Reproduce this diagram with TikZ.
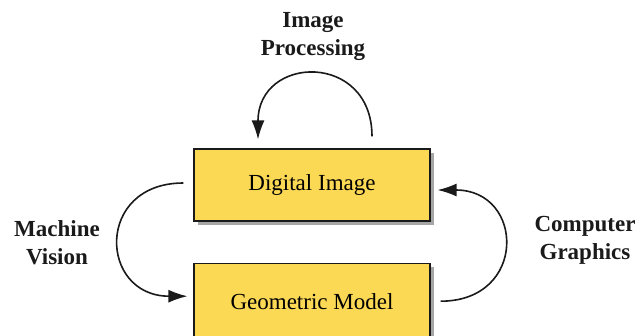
\documentclass[tikz,border=0pt]{standalone}
\usepackage{fontspec}
\setmainfont{Liberation Serif}
\usetikzlibrary{arrows.meta,positioning,shadows}
\definecolor{ink}{HTML}{1A1A1A}
\definecolor{boxfill}{HTML}{FCD955}
\tikzset{
  box/.style={draw=ink,line width=1.2pt,fill=boxfill,minimum width=236pt,minimum height=72pt,inner sep=0pt,font=\fontsize{23}{28}\selectfont,drop shadow={shadow xshift=4pt,shadow yshift=-4pt,opacity=.35,fill=black}},
  lbl/.style={align=center,font=\fontsize{23}{28}\selectfont\bfseries,text=ink},
  ar/.style={-{Latex[length=19pt,width=13pt]},draw=ink,line width=1.6pt},
}
\begin{document}
\begin{tikzpicture}[x=1pt,y=-1pt]
  \useasboundingbox (0,0) rectangle (642,335);
  \node[box] (img) at (312,185) {Digital Image};
  \node[box,below=41pt of img,minimum height=76pt] (geo) {Geometric Model};

  \node[lbl] (proc) at (313,37) {Image\\Processing};
  \node[lbl] (vis) at (57,243) {Machine\\Vision};
  \node[lbl] (gfx) at (585,240) {Computer\\Graphics};

  \draw[ar] ([xshift=60pt,yshift=12pt]img.north) to[out=90,in=90,looseness=1.9] ([xshift=-54pt,yshift=9pt]img.north);
  \draw[ar] ([xshift=-10pt,yshift=2pt]img.west) to[out=180,in=180,looseness=2] ([xshift=-6pt,yshift=5pt]geo.west);
  \draw[ar] ([xshift=10pt]geo.east) to[out=0,in=0,looseness=2] ([xshift=7pt,yshift=-5pt]img.east);
\end{tikzpicture}
\end{document}
